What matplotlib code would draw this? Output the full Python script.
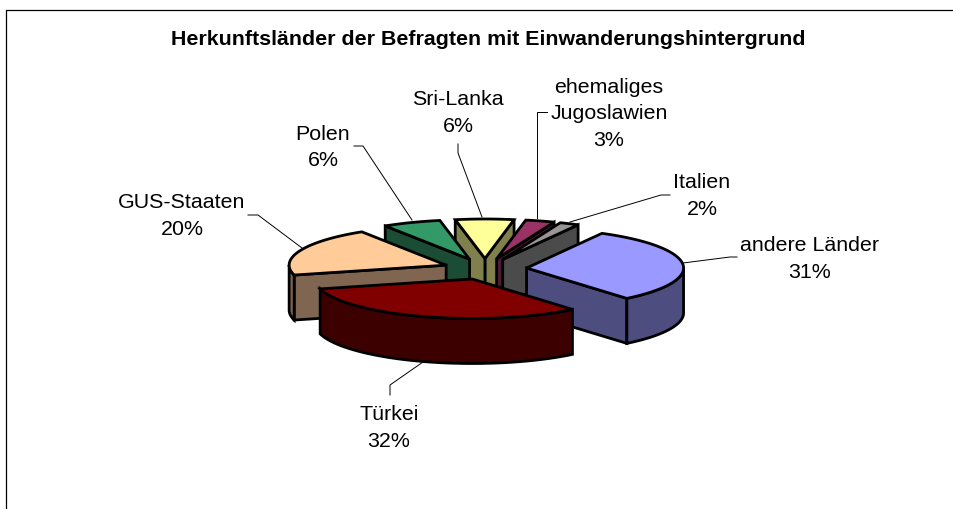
import matplotlib
matplotlib.use('Agg')
import matplotlib.pyplot as plt
from matplotlib.patches import Polygon
import numpy as np

plt.rcParams['font.family'] = ['Liberation Sans', 'DejaVu Sans']

# 数据
categories = ['andere Länder', 'Türkei', 'GUS-Staaten', 'Polen', 'Sri-Lanka',
              'ehemaliges\nJugoslawien', 'Italien']
values = [31, 32, 20, 6, 6, 3, 2]
top_colors = ['#9999FF', '#800000', '#FFCC99', '#339966', '#FFFF99', '#993366', '#969696']
side_colors = ['#4D4D80', '#3C0000', '#806650', '#1A4D33', '#80804D', '#4D1A33', '#4B4B4B']
title = 'Herkunftsländer der Befragten mit Einwanderungshintergrund'

# 标签位置 (像素)
label_pos = [(810, 259), (389, 428), (182, 216), (323, 147.5), (458, 113), (609, 113.5), (702, 196)]
leaders = [[(683, 263), (730, 257), (737, 257)],
           [(390, 395), (390, 385), (423, 362)],
           [(248, 215), (258, 215), (302, 248)],
           [(354, 146), (363, 146), (412, 220)],
           [(458, 144), (458, 153), (482, 217)],
           [(547, 112), (537, 112), (537, 218)],
           [(670, 195), (661, 195), (570, 222)]]

# 饼图几何参数 (像素)
cx, cy = 485, 269
rx, ry = 157, 39.5
explode = 0.266
depth = 45
start_angle = 28.7
lw = 2.0


def point(a, c, r=1.0):
    a = np.radians(a)
    return np.array([c[0] + r * rx * np.sin(a), c[1] - r * ry * np.cos(a)])


def wall(ax, pts, color):
    pts = np.array(pts)
    low = pts[::-1] + [0, depth]
    ax.add_patch(Polygon(np.vstack([pts, low]), closed=True, fc=color, ec='black',
                         lw=lw, joinstyle='miter'))


def edge_visible(apex, p, inner):
    v = p - apex
    n = np.array([-v[1], v[0]])
    if n.dot(inner - apex) > 0:
        n = -n
    return n[1] > 0  # y 轴向下，朝向观察者


def draw_slice(ax, a1, a2, top, side):
    mid = (a1 + a2) / 2
    apex = np.array([cx + explode * rx * np.sin(np.radians(mid)),
                     cy - explode * ry * np.cos(np.radians(mid))])
    arc = np.array([point(a, apex) for a in np.linspace(a1, a2, 80)])
    inner = point(mid, apex)

    walls = []
    for p in (arc[0], arc[-1]):
        if edge_visible(apex, p, inner):
            walls.append(np.array([apex, p]))
    lo, hi = max(a1, 90), min(a2, 270)
    if lo < hi:
        walls.append(np.array([point(a, apex) for a in np.linspace(lo, hi, 60)]))
    for pts in sorted(walls, key=lambda w: w[:, 1].mean()):
        wall(ax, pts, side)

    ax.add_patch(Polygon(np.vstack([apex, arc]), closed=True, fc=top, ec='black',
                         lw=lw, joinstyle='miter'))


fig = plt.figure(figsize=(9.54, 5.09), dpi=100)
ax = fig.add_axes([0, 0, 1, 1])
ax.set_xlim(0, 954)
ax.set_ylim(509, 0)
ax.axis('off')

# 外框
ax.plot([6.5, 6.5, 954], [509, 9.5, 9.5], color='black', lw=0.9)

ax.text(488, 39, title, ha='center', va='center', fontsize=15.4, fontweight='bold')

# 引线
for line in leaders:
    xs, ys = zip(*line)
    ax.plot(xs, ys, color='black', lw=0.7)

# 角度，从12点钟方向顺时针
spans = np.array(values) / sum(values) * 360
starts = start_angle + np.concatenate([[0], np.cumsum(spans)[:-1]])
order = np.argsort(-np.cos(np.radians(starts + spans / 2)))
for i in order:
    draw_slice(ax, starts[i], starts[i] + spans[i], top_colors[i], side_colors[i])

for name, v, pos in zip(categories, values, label_pos):
    ax.text(pos[0], pos[1], f'{name}\n{v}%', ha='center', va='center', fontsize=15.4,
            linespacing=1.5)

fig.savefig('out.png', dpi=100)
